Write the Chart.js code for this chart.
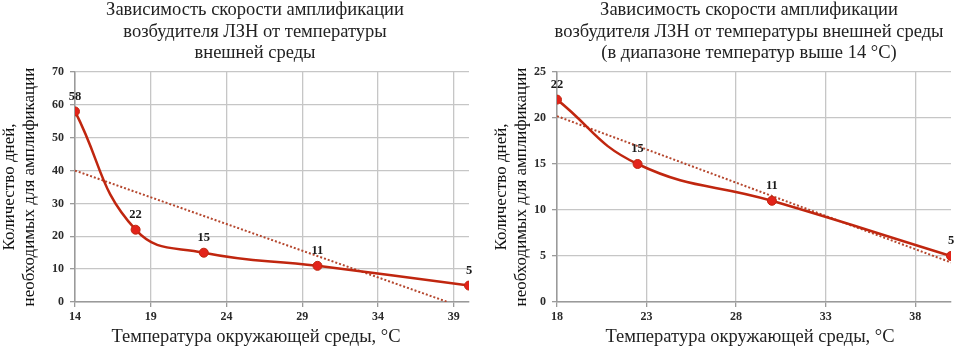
<!DOCTYPE html>
<html>
<head>
<meta charset="utf-8">
<script src="https://cdn.jsdelivr.net/npm/chart.js@4/dist/chart.umd.min.js"></script>
<style>
  html, body { margin: 0; padding: 0; background: #ffffff; }
  #wrap { position: relative; width: 965px; height: 350px; overflow: hidden; background: #fff; }
  .box { position: absolute; top: 0; height: 350px; }
  #b1 { left: 0; width: 485px; }
  #b2 { left: 485px; width: 480px; }
</style>
</head>
<body>
<div id="wrap">
  <div class="box" id="b1"><canvas id="c1" width="485" height="350"></canvas></div>
  <div class="box" id="b2"><canvas id="c2" width="480" height="350"></canvas></div>
</div>
<script>
// ---- Data ----
const tempsAll = [14, 18, 22.5, 30, 40];
const daysAll = [58, 22, 15, 11, 5];
const trendAllTemps = [14, 38.6];
const trendAllDays = [40, 0];
const xTicksAll = [14, 19, 24, 29, 34, 39];
const yTicksAll = [0, 10, 20, 30, 40, 50, 60, 70];

const tempsHigh = [18, 22.5, 30, 40];
const daysHigh = [22, 15, 11, 5];
const trendHighTemps = [18, 40];
const trendHighDays = [20.2, 4.3];
const xTicksHigh = [18, 23, 28, 33, 38];
const yTicksHigh = [0, 5, 10, 15, 20, 25];

const titleAll = ['Зависимость скорости амплификации', 'возбудителя ЛЗН от температуры', 'внешней среды'];
const titleHigh = ['Зависимость скорости амплификации', 'возбудителя ЛЗН от температуры внешней среды', '(в диапазоне температур выше 14 °C)'];
const yTitle = ['Количество дней,', 'необходимых для амплификации'];
const xTitle = 'Температура окружающей среды, °C';

const SERIF = "'Liberation Serif', 'Times New Roman', serif";
const LINE = '#c0260f';
const MARK = '#e2231a';
const TREND = '#b5472e';
const GRID = '#c6c6c6';
const AXIS = '#9a9a9a';

const TITLE_SIZE = 18.5, TITLE_LH = 1.15;
const XT_SIZE = 18.5, XT_LH = 1.2, XT_PADB = 2;

function pts(xs, ys) { return xs.map((x, i) => ({ x: x, y: ys[i] })); }

// centres top title and bottom (x-axis) title boxes at given x
const centerTitles = {
  id: 'centerTitles',
  afterLayout(chart, args, opts) {
    chart.boxes.forEach(b => {
      if (b.axis || !b.options || b.options.text === undefined) return;
      const cx = b.options.position === 'bottom' ? opts.xTitleX : opts.titleX;
      if (cx === undefined) return;
      const dx = cx - (b.left + b.right) / 2;
      b.left += dx; b.right += dx;
    });
  }
};

const valueLabels = {
  id: 'valueLabels',
  afterDatasetsDraw(chart) {
    const ctx = chart.ctx;
    const meta = chart.getDatasetMeta(0);
    const ds = chart.data.datasets[0];
    ctx.save();
    ctx.font = 'bold 12.5px ' + SERIF;
    ctx.fillStyle = '#1a1a1a';
    ctx.textAlign = 'center';
    ctx.textBaseline = 'middle';
    meta.data.forEach((el, i) => {
      ctx.fillText(String(ds.data[i].y), el.x, el.y - 15);
    });
    ctx.restore();
  }
};

function makeChart(id, cfg) {
  const xTicks = cfg.xTicks, yTicks = cfg.yTicks;
  return new Chart(document.getElementById(id), {
    type: 'line',
    data: {
      datasets: [
        {
          data: pts(cfg.temps, cfg.days),
          borderColor: LINE,
          borderWidth: 2.5,
          backgroundColor: MARK,
          pointBackgroundColor: MARK,
          pointBorderColor: LINE,
          pointBorderWidth: 1,
          pointRadius: 4.5,
          tension: 0.45,
          fill: false,
          order: 1
        },
        {
          data: pts(cfg.trendX, cfg.trendY),
          borderColor: TREND,
          borderWidth: 2,
          borderDash: [2, 2],
          pointRadius: 0,
          tension: 0,
          fill: false,
          order: 2
        }
      ]
    },
    options: {
      responsive: false,
      animation: false,
      devicePixelRatio: 1,
      layout: { padding: { left: 0, right: cfg.padRight, top: 0, bottom: 0 } },
      plugins: {
        legend: { display: false },
        tooltip: { enabled: false },
        title: {
          display: true,
          text: cfg.title,
          color: '#222',
          font: { family: SERIF, size: TITLE_SIZE, weight: 'normal', lineHeight: TITLE_LH },
          padding: { top: 0, bottom: 72 - 3 * TITLE_SIZE * TITLE_LH }
        },
        subtitle: {
          display: true,
          position: 'bottom',
          text: xTitle,
          color: '#222',
          font: { family: SERIF, size: XT_SIZE, weight: 'normal', lineHeight: XT_LH },
          padding: { top: 0, bottom: XT_PADB }
        },
        centerTitles: { titleX: cfg.titleX, xTitleX: cfg.xTitleX }
      },
      scales: {
        x: {
          type: 'linear',
          min: cfg.xMin,
          max: cfg.xMax,
          afterBuildTicks: (s) => { s.ticks = xTicks.map(v => ({ value: v })); },
          afterFit: (s) => { s.height = 350 - 302 - (XT_SIZE * XT_LH + XT_PADB); },
          ticks: {
            color: '#2a2a2a',
            font: { family: SERIF, size: 12, weight: 'bold' },
            padding: 3,
            maxRotation: 0,
            autoSkip: false
          },
          grid: { color: GRID, lineWidth: 1.3, tickColor: AXIS, tickLength: 5 },
          border: { color: AXIS, width: 1.5 }
        },
        y: {
          type: 'linear',
          min: cfg.yMin,
          max: cfg.yMax,
          afterBuildTicks: (s) => { s.ticks = yTicks.map(v => ({ value: v })); },
          afterFit: (s) => { s.width = cfg.yWidth; },
          ticks: {
            color: '#2a2a2a',
            font: { family: SERIF, size: 12, weight: 'bold' },
            padding: 6
          },
          grid: { color: GRID, lineWidth: 1.3, tickColor: AXIS, tickLength: 5 },
          border: { color: AXIS, width: 1.5 },
          title: {
            display: true,
            text: yTitle,
            color: '#111',
            font: { family: SERIF, size: 17, weight: 'normal', lineHeight: 1.15 },
            padding: { top: cfg.yTitlePad, bottom: 0 }
          }
        }
      }
    },
    plugins: [centerTitles, valueLabels]
  });
}

makeChart('c1', {
  temps: tempsAll, days: daysAll, trendX: trendAllTemps, trendY: trendAllDays,
  xTicks: xTicksAll, yTicks: yTicksAll, xMin: 14, xMax: 40, yMin: 0, yMax: 70,
  title: titleAll, padRight: 16, yWidth: 75, titleX: 255, xTitleX: 256, yTitlePad: 0
});

makeChart('c2', {
  temps: tempsHigh, days: daysHigh, trendX: trendHighTemps, trendY: trendHighDays,
  xTicks: xTicksHigh, yTicks: yTicksHigh, xMin: 18, xMax: 40, yMin: 0, yMax: 25,
  title: titleHigh, padRight: 14, yWidth: 72, titleX: 264, xTitleX: 265, yTitlePad: 7
});
</script>
</body>
</html>
